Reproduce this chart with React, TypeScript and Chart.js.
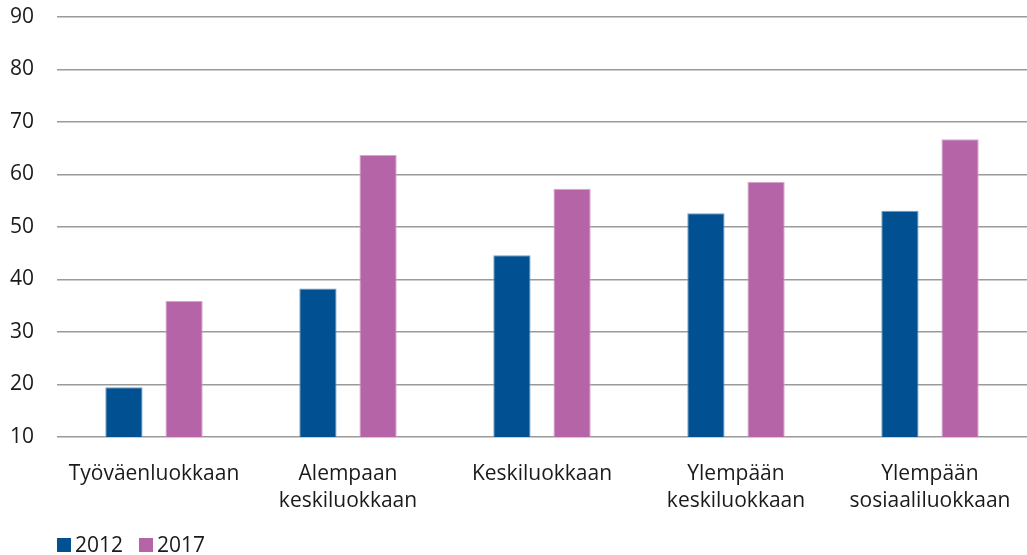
import React, { useEffect, useRef } from "react";
import { Chart, registerables } from "chart.js";
Chart.register(...registerables);

const categories: string[][] = [
  ["Työväenluokkaan"],
  ["Alempaan", "keskiluokkaan"],
  ["Keskiluokkaan"],
  ["Ylempään", "keskiluokkaan"],
  ["Ylempään", "sosiaaliluokkaan"],
];
const seriesLabels = ["2012", "2017"];
const values2012 = [19.5, 38.3, 44.6, 52.6, 53.1];
const values2017 = [35.9, 63.7, 57.3, 58.6, 66.7];
const yTicks = [10, 20, 30, 40, 50, 60, 70, 80, 90];
const colors = ["#005092", "#b565a7"];
const borderColors = ["#6f9cc4", "#d7a6ce"];

const FONT_FAMILY = "'Open Sans', 'Noto Sans', sans-serif";

export default function App() {
  const ref = useRef<HTMLCanvasElement>(null);
  useEffect(() => {
    document.body.style.margin = "0";
    const font = { family: FONT_FAMILY, size: 21, lineHeight: "27px" };
    const chart = new Chart(ref.current!, {
      type: "bar",
      data: {
        labels: categories,
        datasets: [
          { label: seriesLabels[0], data: values2012, backgroundColor: colors[0], borderColor: borderColors[0], borderWidth: 1 },
          { label: seriesLabels[1], data: values2017, backgroundColor: colors[1], borderColor: borderColors[1], borderWidth: 1 },
        ],
      },
      options: {
        animation: false,
        responsive: false,
        maintainAspectRatio: false,
        layout: { padding: { top: 17, right: 0, left: 0, bottom: 40 } },
        datasets: { bar: { categoryPercentage: 0.62, barPercentage: 0.62 } },
        plugins: {
          legend: { display: false },
          tooltip: { enabled: false },
        },
        scales: {
          x: {
            grid: { display: false },
            border: { display: false },
            afterFit: (s: any) => { s.height = 78; },
            ticks: { font, color: "#1a1a1a", maxRotation: 0, autoSkip: false, padding: 16 },
          },
          y: {
            min: 10,
            max: 90,
            afterBuildTicks: (s: any) => { s.ticks = yTicks.map((v) => ({ value: v })); },
            afterFit: (s: any) => { s.width = 57; s.paddingTop = 0; },
            grid: { color: "#9a9a9a", lineWidth: 1.5, drawTicks: false },
            border: { display: false },
            ticks: { font: { family: FONT_FAMILY, size: 21 }, color: "#1a1a1a", padding: 23 },
          },
        },
      },
    });
    return () => chart.destroy();
  }, []);
  return (
    <div style={{ position: "relative", width: 1027, height: 555 }}>
      <canvas ref={ref} width={1027} height={555} style={{ display: "block" }} />
      <div
        style={{
          position: "absolute",
          left: 57,
          top: 531,
          display: "flex",
          alignItems: "center",
          fontFamily: FONT_FAMILY,
          fontSize: 21,
          color: "#1a1a1a",
          lineHeight: "27px",
        }}
      >
        {seriesLabels.map((l, i) => (
          <div key={l} style={{ display: "flex", alignItems: "center", marginRight: 16 }}>
            <span style={{ display: "inline-block", width: 14, height: 14, background: colors[i], marginRight: 4 }} />
            <span>{l}</span>
          </div>
        ))}
      </div>
    </div>
  );
}
